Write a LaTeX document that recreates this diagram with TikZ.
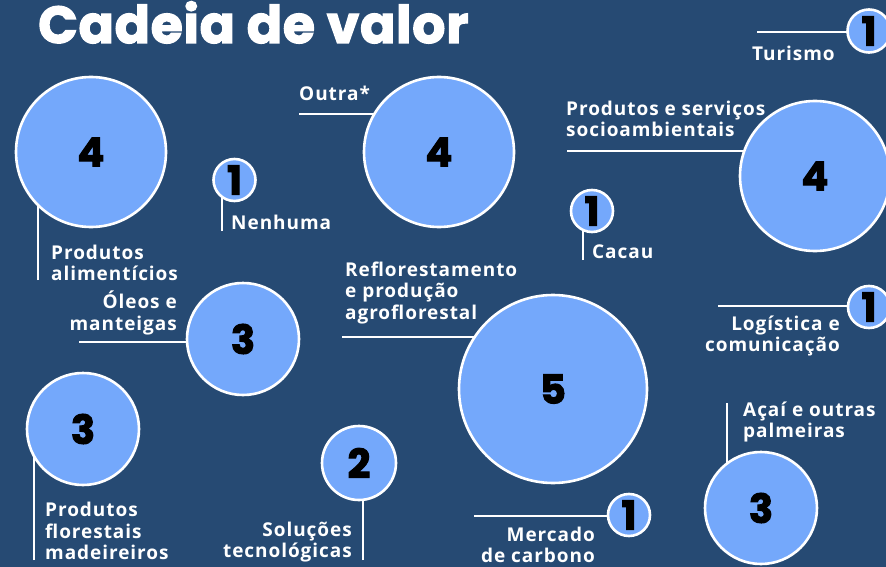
\documentclass[tikz,border=0pt]{standalone}
\usepackage{fontspec}
\setmainfont{Open Sans}[LetterSpace=5]
\newfontfamily\titlefont{Poppins}[BoldFeatures={FakeBold=2.5}]
\newfontfamily\headfont{Poppins}[LetterSpace=1.5, BoldFeatures={FakeBold=2.5}]
\definecolor{bgblue}{RGB}{38,74,115}
\definecolor{bubblue}{RGB}{116,168,251}
\pgfdeclarelayer{back}
\pgfdeclarelayer{lines}
\pgfsetlayers{back,lines,main}
\tikzset{
  bub/.style={circle, draw=white, line width=2.6pt, fill=bubblue, inner sep=0pt,
    font=\titlefont\bfseries\fontsize{40}{40}\selectfont, text=black},
  conn/.style={draw=white, line width=2.6pt},
  lbl/.style={text=white, inner sep=0pt, font=\bfseries\fontsize{19}{21.5}\selectfont},
}
\begin{document}
\begin{tikzpicture}[x=1pt,y=-1pt]
\begin{pgfonlayer}{back}
\fill[bgblue] (0,0) rectangle (886,567);
\end{pgfonlayer}
\useasboundingbox (0,0) rectangle (886,567);

\node[text=white, inner sep=0pt, anchor=base west, font=\headfont\bfseries\fontsize{52}{52}\selectfont] (title) at (38,43) {Cadeia de valor};

% bubbles
\node[bub, minimum size=150pt] (c1) at (91,152) {4};
\node[bub, minimum size=42pt] (c2) at (234.5,180) {1};
\node[bub, minimum size=150pt] (c3) at (439,152) {4};
\node[bub, minimum size=42pt] (c4) at (592,211) {1};
\node[bub, minimum size=188pt] (c5) at (553,389) {5};
\node[bub, minimum size=150pt] (c6) at (815,176) {4};
\node[bub, minimum size=43pt] (c7) at (869,31) {1};
\node[bub, minimum size=42pt] (c8) at (869,307) {1};
\node[bub, minimum size=112pt] (c9) at (243,339) {3};
\node[bub, minimum size=112pt] (c10) at (83,429) {3};
\node[bub, minimum size=74pt] (c11) at (359,463) {2};
\node[bub, minimum size=42pt] (c12) at (629,515) {1};
\node[bub, minimum size=112pt] (c13) at (761,508) {3};

% connector ends
\coordinate (e1) at (38,280);
\coordinate (e2) at (222,231);
\coordinate (e3) at (299,114);
\coordinate (e4) at (583,260);
\coordinate (e5) at (342,337);
\coordinate (e6) at (567,151);
\coordinate (e7) at (757,32);
\coordinate (e8) at (718,306);
\coordinate (e9) at (79,342);
\coordinate (e10) at (34,560);
\coordinate (e11) at (363,560);
\coordinate (e12) at (474,516);
\coordinate (e13) at (727,403);

\begin{pgfonlayer}{lines}
\draw[conn] (e1) -- (e1 |- c1);
\draw[conn] (e2) -- (e2 |- c2);
\draw[conn] (e3) -- (e3 -| c3);
\draw[conn] (e4) -- (e4 |- c4);
\draw[conn] (e5) -- (e5 -| c5);
\draw[conn] (e6) -- (e6 -| c6);
\draw[conn] (e7) -- (e7 -| c7);
\draw[conn] (e8) -- (e8 -| c8);
\draw[conn] (e9) -- (e9 -| c9);
\draw[conn] (e10) -- (e10 |- c10);
\draw[conn] (e11) -- (e11 |- c11);
\draw[conn] (e12) -- (e12 -| c12);
\draw[conn] (e13) -- (e13 |- c13);
\end{pgfonlayer}

% labels
\node[lbl, anchor=west, align=left] (t1) at (51,263) {Produtos\\alimentícios};
\node[lbl, anchor=west, align=left] (t2) at (231,222) {Nenhuma};
\node[lbl, anchor=west, align=left] (t3) at (299,93) {Outra*};
\node[lbl, anchor=west, align=left] (t4) at (592,252) {Cacau};
\node[lbl, anchor=west, align=left] (t5) at (345,293) {Reflorestamento\\e produção\\agroflorestal};
\node[lbl, anchor=west, align=left] (t6) at (566,119) {Produtos e serviços\\socioambientais};
\node[lbl, anchor=west, align=left] (t7) at (752,53) {Turismo};
\node[lbl, anchor=east, align=right] (t8) at (840,336) {Logística e\\comunicação};
\node[lbl, anchor=east, align=right] (t9) at (177,313) {Óleos e\\manteigas};
\node[lbl, anchor=west, align=left] (t10) at (45,531) {Produtos\\florestais\\madeireiros};
\node[lbl, anchor=east, align=right] (t11) at (352,542) {Soluções\\tecnológicas};
\node[lbl, anchor=east, align=right] (t12) at (595,545) {Mercado\\de carbono};
\node[lbl, anchor=west, align=left] (t13) at (743,422) {Açaí e outras\\palmeiras};
\end{tikzpicture}
\end{document}
